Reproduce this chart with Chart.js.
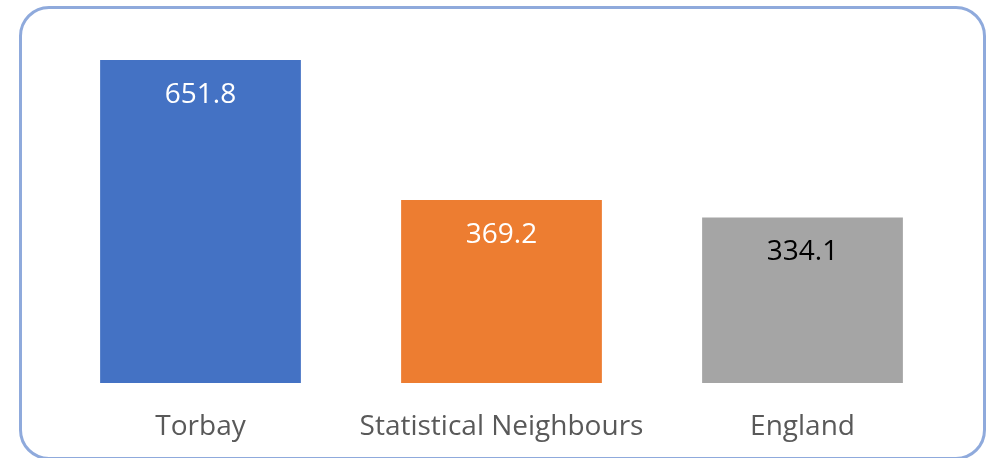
<!DOCTYPE html>
<html>
<head>
<meta charset="utf-8">
<script src="https://cdn.jsdelivr.net/npm/chart.js@4"></script>
<style>
  html, body { margin: 0; padding: 0; background: #fff; }
  #wrap { position: relative; width: 992px; height: 458px; overflow: hidden; }
  #frame {
    position: absolute; left: 19px; top: 6px; width: 961px; height: 448px;
    border: 3px solid #8FAADC; border-radius: 30px; background: #fff;
  }
  #chart { position: absolute; left: 0; top: 0; }
</style>
</head>
<body>
<div id="wrap">
  <div id="frame"></div>
  <canvas id="chart" width="992" height="458"></canvas>
</div>
<script>
// — veriler —
const categories = ['Torbay', 'Statistical Neighbours', 'England'];
const values = [651.8, 369.2, 334.1];
const barColors = ['#4472C4', '#ED7D31', '#A5A5A5'];
const labelColors = ['#FFFFFF', '#FFFFFF', '#000000'];

const FONT = '"Open Sans", "Noto Sans", sans-serif';

// — bar içi değer etiketleri —
const valueLabels = {
  id: 'valueLabels',
  afterDatasetsDraw(chart) {
    const ctx = chart.ctx;
    const meta = chart.getDatasetMeta(0);
    ctx.save();
    ctx.font = '28px ' + FONT;
    ctx.textAlign = 'center';
    ctx.textBaseline = 'middle';
    meta.data.forEach((bar, i) => {
      ctx.fillStyle = labelColors[i];
      ctx.fillText(values[i].toFixed(1), bar.x, bar.y + 35);
    });
    ctx.restore();
  }
};

const ctx = document.getElementById('chart').getContext('2d');
const chart = new Chart(ctx, {
  type: 'bar',
  data: {
    labels: categories,
    datasets: [{
      data: values,
      backgroundColor: barColors,
      borderWidth: 0,
      categoryPercentage: 1,
      barPercentage: 0.667
    }]
  },
  options: {
    responsive: false,
    animation: false,
    layout: { padding: { left: 50, right: 39, top: 36, bottom: 0 } },
    plugins: {
      legend: { display: false },
      tooltip: { enabled: false }
    },
    scales: {
      x: {
        grid: { display: false, drawTicks: false },
        border: { display: false },
        ticks: { color: '#595959', padding: 27, maxRotation: 0, font: { family: FONT, size: 28 } },
        afterFit(scale) { scale.height = 75; }
      },
      y: {
        display: false,
        min: 0,
        max: 700
      }
    }
  },
  plugins: [valueLabels]
});
</script>
</body>
</html>
